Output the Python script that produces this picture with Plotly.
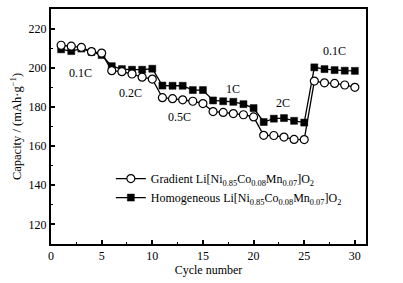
import plotly.graph_objects as go

cycles = list(range(1, 31))
gradient = [211.5, 211.0, 210.4, 208.2, 207.5, 198.5, 198.0, 196.8, 195.2, 194.2,
            184.7, 184.2, 183.6, 182.9, 181.7, 177.6, 177.2, 176.6, 176.0, 174.9,
            165.5, 165.4, 164.6, 163.4, 163.3, 193.2, 192.3, 192.0, 191.2, 190.0]
homogeneous = [209.4, 208.5, 209.8, 208.1, 206.5, 200.8, 199.3, 199.0, 199.0, 199.5,
               190.9, 190.8, 190.8, 188.6, 188.6, 183.3, 182.9, 182.6, 181.4, 179.4,
               172.3, 174.0, 174.3, 172.9, 172.0, 200.2, 199.3, 198.8, 198.5, 198.4]
rate_labels = ["0.1C", "0.2C", "0.5C", "1C", "2C", "0.1C"]
rate_x = [2.9, 7.8, 12.7, 18.0, 22.9, 28.0]
rate_y = [197.3, 187.0, 174.7, 189.0, 182.0, 208.7]

name_g = "Gradient Li[Ni<sub>0.85</sub>Co<sub>0.08</sub>Mn<sub>0.07</sub>]O<sub>2</sub>"
name_h = "Homogeneous Li[Ni<sub>0.85</sub>Co<sub>0.08</sub>Mn<sub>0.07</sub>]O<sub>2</sub>"

font = "Liberation Serif, Times New Roman, serif"

fig = go.Figure()
fig.add_trace(go.Scatter(
    x=cycles, y=homogeneous, mode="lines+markers", name=name_h, legendrank=2,
    line=dict(color="black", width=1.3),
    marker=dict(symbol="square", size=7, color="black", line=dict(color="black", width=0.5)),
))
fig.add_trace(go.Scatter(
    x=cycles, y=gradient, mode="lines+markers", name=name_g, legendrank=1,
    line=dict(color="black", width=1.3),
    marker=dict(symbol="circle", size=8, color="white", line=dict(color="black", width=1.2)),
))

for t, xx, yy in zip(rate_labels, rate_x, rate_y):
    fig.add_annotation(x=xx, y=yy, text=t, showarrow=False,
                       font=dict(family=font, size=12, color="black"))

axis_common = dict(
    showline=True, linecolor="black", linewidth=2, mirror=True,
    ticks="inside", ticklen=4, tickwidth=1.5, tickcolor="black",
    showgrid=False, zeroline=False, automargin=False,
    tickfont=dict(family=font, size=12, color="black"),
    minor=dict(ticks="inside", ticklen=2, tickwidth=1.2, tickcolor="black"),
)

fig.update_xaxes(range=[0, 31.1], tickvals=[0, 5, 10, 15, 20, 25, 30],
                 minor_dtick=2.5, minor_tick0=0,
                 title=dict(text="Cycle number", font=dict(family=font, size=12, color="black"), standoff=2),
                 **axis_common)
fig.update_yaxes(range=[110, 230], tickvals=[120, 140, 160, 180, 200, 220],
                 minor_dtick=10, minor_tick0=110,
                 title=dict(text="Capacity / (mAh·g<sup>−1</sup>)", font=dict(family=font, size=12.5, color="black"), standoff=4),
                 **axis_common)

fig.update_layout(
    width=403, height=283,
    margin=dict(l=51, r=37, t=9, b=39, autoexpand=False),
    paper_bgcolor="white", plot_bgcolor="white",
    showlegend=True,
    legend=dict(x=0.19, y=0.34, xanchor="left", yanchor="top",
                bgcolor="rgba(0,0,0,0)", borderwidth=0,
                font=dict(family=font, size=12, color="black"),
                tracegroupgap=0, itemwidth=30),
)

fig.write_html("out.html", config={"displayModeBar": False},
               post_script="document.body.style.margin='0';")
